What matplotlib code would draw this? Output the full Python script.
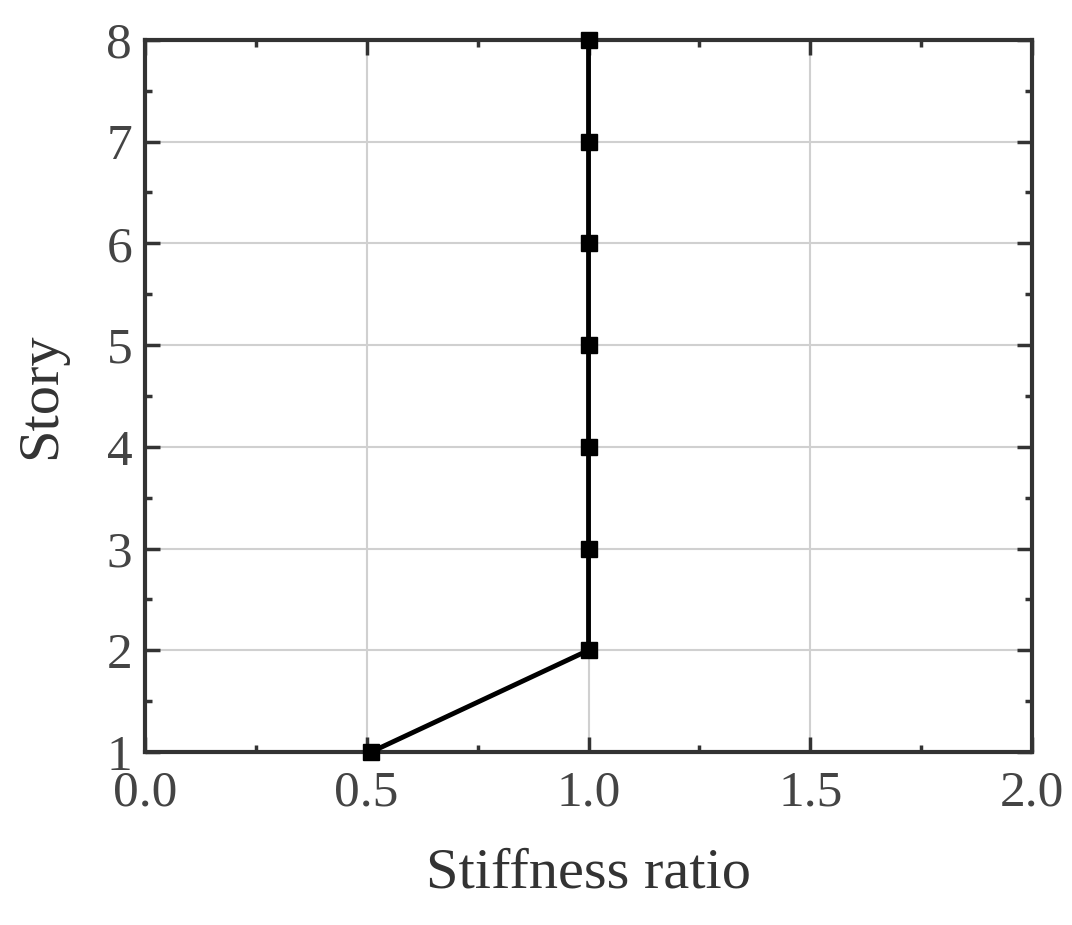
import matplotlib
matplotlib.use('Agg')
import matplotlib.pyplot as plt
from matplotlib.ticker import MultipleLocator

plt.rcParams['font.family'] = ['Liberation Serif', 'DejaVu Serif']

story = [1, 2, 3, 4, 5, 6, 7, 8]
stiffness_ratio = [0.51, 1.0, 1.0, 1.0, 1.0, 1.0, 1.0, 1.0]
x_ticks = [0.0, 0.5, 1.0, 1.5, 2.0]
y_ticks = [1, 2, 3, 4, 5, 6, 7, 8]

fig = plt.figure(figsize=(10.72, 9.25), dpi=100)
ax = fig.add_axes([0.135, 0.187, 0.828, 0.770])

ax.plot(stiffness_ratio, story, color='black', lw=3.5, marker='s', ms=12, zorder=3, clip_on=False)

ax.set_xlim(0, 2)
ax.set_ylim(1, 8)
ax.set_xticks(x_ticks)
ax.set_xticklabels(['%.1f' % v for v in x_ticks])
ax.set_yticks(y_ticks)
ax.xaxis.set_minor_locator(MultipleLocator(0.25))
ax.yaxis.set_minor_locator(MultipleLocator(0.5))
ax.grid(True, which='major', color='#d0d0d0', lw=1.5)
ax.set_axisbelow(True)

for s in ax.spines.values():
	s.set_linewidth(3)
	s.set_color('#333333')
ax.tick_params(which='both', direction='in', top=True, right=True, color='#333333',
	labelsize=37, labelcolor='#444444')
ax.tick_params(axis='x', pad=13)
ax.tick_params(axis='y', pad=9)
ax.tick_params(which='major', length=11, width=2.5)
ax.tick_params(which='minor', length=5, width=2.5)

ax.set_xlabel('Stiffness ratio', fontsize=42, color='#333333', labelpad=22)
ax.set_ylabel('Story', fontsize=42, color='#333333', labelpad=28)

fig.savefig('out.png', dpi=100)
